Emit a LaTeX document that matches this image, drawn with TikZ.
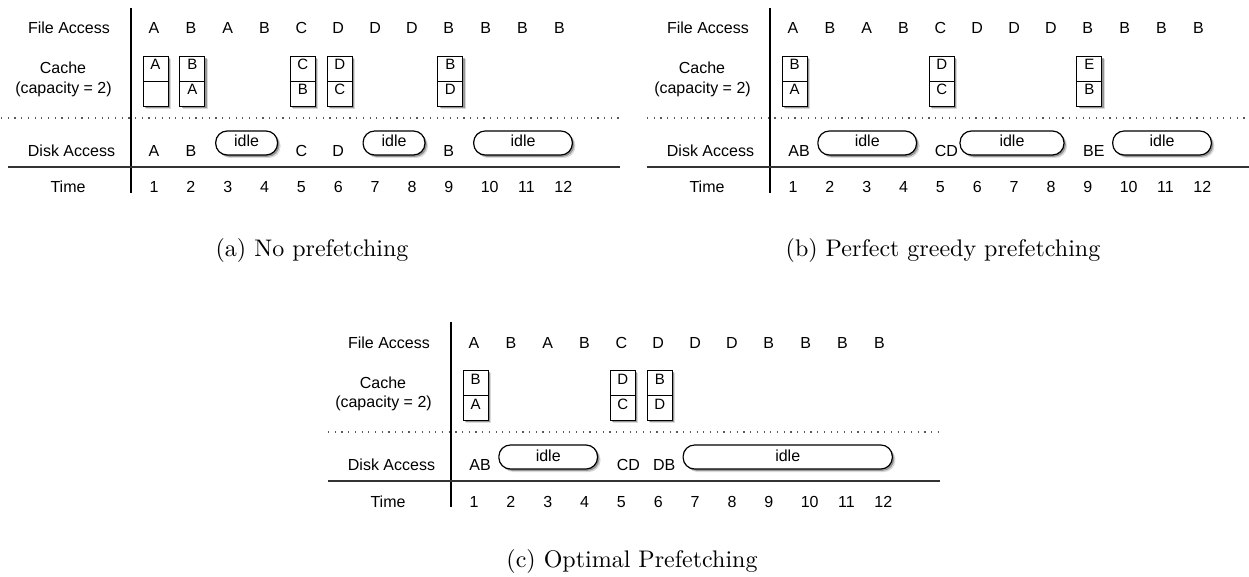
\documentclass[tikz,border=0pt]{standalone}
\usepackage{fontspec}
\newfontfamily\hv{Liberation Sans}
\newfontfamily\capfont{lmroman10-regular.otf}
\usetikzlibrary{shadows}
\tikzset{
  x=1pt, y=-1pt,
  lbl/.style={font=\hv\fontsize{16pt}{19pt}\selectfont, inner sep=0pt, anchor=base},
  captext/.style={font=\capfont\fontsize{24pt}{28pt}\selectfont, inner sep=0pt, anchor=base},
  vline/.style={line width=2.6pt, black},
  hline/.style={line width=1.3pt, black!80},
  dotline/.style={line width=1.3pt, black!65, dash pattern=on 1.2pt off 5.5pt},
  shad/.style={drop shadow={shadow xshift=3pt, shadow yshift=-3pt, opacity=.15, fill=black},
               drop shadow={shadow xshift=1.8pt, shadow yshift=-1.8pt, opacity=.3, fill=black}},
  cell/.style={shad, draw, fill=white, line width=0.9pt, minimum width=25pt, minimum height=25pt,
    inner sep=0pt, font=\hv\fontsize{15pt}{18pt}\selectfont, text height=11.5pt, text depth=8.5pt},
  pill/.style={shad, draw, fill=white, line width=1.2pt, rounded corners=11.5pt, minimum height=24pt,
    inner sep=0pt, font=\hv\fontsize{16pt}{19pt}\selectfont, text height=11.5pt, text depth=3.5pt},
}
\newcommand\colx[1]{154+36.85*(#1-1)}
% #1 prefix, #2 dotted start, #3 right end
\newcommand\commonpanel[3]{%
  \node[lbl] (#1fa) at (69,34) {File Access};
  \node[lbl] (#1cache) at (63,74) {Cache};
  \node[lbl] (#1capty) at (63.5,93.5) {(capacity = 2)};
  \node[lbl] (#1da) at (71.5,156.7) {Disk Access};
  \node[lbl] (#1time) at (68,193) {Time};
  \coordinate (#1vt) at (131,8); \coordinate (#1vb) at (131,193);
  \coordinate (#1hl) at (8,167); \coordinate (#1hr) at (#3,167);
  \coordinate (#1dl) at (#2,118); \coordinate (#1dr) at (#3,118);
  \draw[vline] (#1vt) -- (#1vb);
  \draw[hline] (#1hl) -- (#1hr);
  \draw[dotline] (#1dl) -- (#1dr);
  \foreach \l [count=\i] in {A,B,A,B,C,D,D,D,B,B,B,B}
    \node[lbl] (#1f\i) at ({\colx{\i}},34) {\l};
  \foreach \i in {1,...,9}
    \node[lbl] (#1t\i) at ({\colx{\i}},193) {\i};
  \foreach \i in {10,11,12}
    \node[lbl] (#1t\i) at ({\colx{\i}+4},193) {\i};
}
% #1 name, #2 column, #3 top, #4 bottom
\newcommand\cachebox[4]{%
  \node[cell] (#1t) at ({\colx{#2}+1.5},68.5) {#3};
  \node[cell] (#1b) at ({\colx{#2}+1.5},93.5) {#4};
}
% #1 name, #2 left x, #3 right x
\newcommand\idlepill[3]{%
  \node[pill, minimum width={(#3)-(#2)}] (#1) at ({((#2)+(#3))/2},143) {idle};
}
\begin{document}
\begin{tikzpicture}
\useasboundingbox (0,0) rectangle (1249,577);
% (a)
\begin{scope}
  \commonpanel{a}{1}{620}
  \cachebox{ac1}{1}{A}{}
  \cachebox{ac2}{2}{B}{A}
  \cachebox{ac5}{5}{C}{B}
  \cachebox{ac6}{6}{D}{C}
  \cachebox{ac9}{9}{B}{D}
  \node[lbl] (ad1) at ({\colx{1}},156.7) {A};
  \node[lbl] (ad2) at ({\colx{2}},156.7) {B};
  \node[lbl] (ad5) at ({\colx{5}},156.7) {C};
  \node[lbl] (ad6) at ({\colx{6}},156.7) {D};
  \node[lbl] (ad9) at ({\colx{9}},156.7) {B};
  \idlepill{ai1}{\colx{3}-12}{\colx{4}+13}
  \idlepill{ai2}{\colx{7}-12}{\colx{8}+13}
  \idlepill{ai3}{\colx{10}-12}{\colx{12}+13}
\end{scope}
% (b)
\begin{scope}[shift={(639,0)}]
  \commonpanel{b}{8}{610}
  \cachebox{bc1}{1}{B}{A}
  \cachebox{bc5}{5}{D}{C}
  \cachebox{bc9}{9}{E}{B}
  \node[lbl] (bd1) at ({\colx{1}+6},156.7) {AB};
  \node[lbl] (bd5) at ({\colx{5}+6},156.7) {CD};
  \node[lbl] (bd9) at ({\colx{9}+6},156.7) {BE};
  \idlepill{bi1}{\colx{2}-12}{\colx{4}+13}
  \idlepill{bi2}{321}{\colx{8}+13}
  \idlepill{bi3}{\colx{10}-12}{\colx{12}+13}
\end{scope}
% (c)
\begin{scope}[shift={(320,314)}]
  \commonpanel{c}{8}{620}
  \cachebox{cc1}{1}{B}{A}
  \cachebox{cc5}{5}{D}{C}
  \cachebox{cc6}{6}{B}{D}
  \node[lbl] (cd1) at ({\colx{1}+6},156.7) {AB};
  \node[lbl] (cd5) at ({\colx{5}+7},156.7) {CD};
  \node[lbl] (cd6) at ({\colx{6}+6},156.7) {DB};
  \idlepill{ci1}{\colx{2}-12}{\colx{4}+13}
  \idlepill{ci2}{\colx{7}-12}{\colx{12}+13}
\end{scope}
% captions
\node[captext] (capa) at (312,257) {(a) No prefetching};
\node[captext] (capb) at (943,257) {(b) Perfect greedy prefetching};
\node[captext] (capc) at (632,567) {(c) Optimal Prefetching};
\end{tikzpicture}
\end{document}
